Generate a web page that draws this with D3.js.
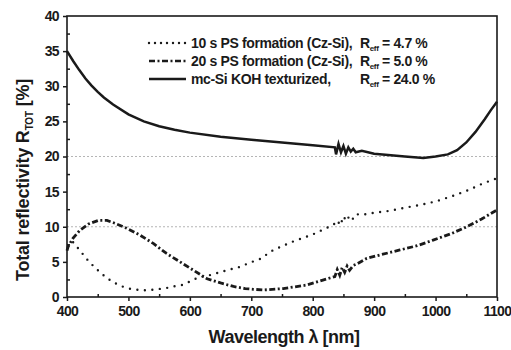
<!DOCTYPE html>
<html>
<head>
<meta charset="utf-8">
<script src="https://d3js.org/d3.v7.min.js"></script>
<style>
body { margin:0; background:#fff; }
text { font-family: "Liberation Sans", Arial, sans-serif; fill:#1a1a1a; }
</style>
</head>
<body>
<div id="chart"></div>
<script>
var width = 511, height = 350;
var plotL = 67, plotR = 497, plotT = 16, plotB = 297;

// 10 s PS formation (Cz-Si)
var ps10Wl = [410,424,436,449,462,475,490,504,517,531,546,560,573,587,600,614,628,644,660,682,698,714,736,768,800,834,840,845,850,855,860,865,870,880,900,920,950,980,1000,1025,1050,1078,1100];
var ps10R  = [7.8,6.3,5.0,3.9,2.9,2.1,1.5,1.14,1.0,0.95,1.1,1.24,1.5,1.7,2.2,2.8,3.0,3.4,3.8,4.3,4.9,5.4,6.7,7.9,8.9,10.3,10.9,10.2,11.5,10.8,11.6,11.1,11.8,11.7,12.0,12.2,12.7,13.2,13.6,14.3,15.1,16.2,16.9];

// 20 s PS formation (Cz-Si)
var ps20Wl = [400,402,410,421,435,451,465,478,497,519,541,562,584,606,628,650,671,690,703,720,752,790,828,836,840,844,848,852,856,860,866,872,888,910,942,970,996,1025,1051,1075,1100];
var ps20R  = [6.6,7.2,8.4,9.5,10.4,10.9,10.9,10.5,9.8,8.8,7.6,6.2,5.0,3.8,2.6,2.0,1.5,1.2,1.1,1.0,1.2,1.7,2.7,2.9,3.9,3.1,4.2,3.5,4.4,3.8,4.5,4.7,5.5,6.0,6.7,7.3,8.1,9.0,10.0,11.1,12.4];

// mc-Si KOH texturized
var kohWl = [400,410,420,430,440,450,460,475,500,525,550,575,600,650,700,750,800,836,838,842,846,850,854,858,862,866,870,880,900,950,980,1000,1020,1035,1050,1065,1080,1090,1100];
var kohR  = [35.0,33.6,32.3,31.1,30.1,29.2,28.4,27.4,26.0,25.0,24.3,23.8,23.4,22.8,22.4,22.0,21.6,21.3,20.3,21.8,20.6,21.5,20.4,21.3,20.7,21.1,20.6,20.8,20.4,20.0,19.8,20.0,20.3,20.9,22.0,23.5,25.3,26.6,27.8];

var xTicks = [400,500,600,700,800,900,1000,1100];
var yTicks = [0,5,10,15,20,25,30,35,40];
var gridLines = [10,20];

var legendLabels = ["10 s PS formation (Cz-Si),", "20 s PS formation (Cz-Si),", "mc-Si KOH texturized,"];
var legendReff = ["4.7 %", "5.0 %", "24.0 %"];

var x = d3.scaleLinear().domain([400,1100]).range([plotL,plotR]);
var y = d3.scaleLinear().domain([0,40]).range([plotB,plotT]);

var svg = d3.select("#chart").append("svg")
    .attr("width",width).attr("height",height);

// faint dotted grid (scan)
svg.selectAll(".grid").data(gridLines).enter().append("line")
    .attr("x1",plotL).attr("x2",plotR)
    .attr("y1",function(d){return y(d);}).attr("y2",function(d){return y(d);})
    .attr("stroke","#b5b5b5").attr("stroke-width",1.2)
    .attr("stroke-dasharray","2,2");

// frame
svg.append("rect").attr("x",plotL).attr("y",plotT)
    .attr("width",plotR-plotL).attr("height",plotB-plotT)
    .attr("fill","none").attr("stroke","#1a1a1a").attr("stroke-width",1.6);

// axes
var xAxis = svg.append("g").attr("transform","translate(0,"+plotB+")")
    .call(d3.axisBottom(x).tickValues(xTicks).tickSize(4).tickPadding(5).tickFormat(d3.format("d")));
var xMinor = svg.append("g").attr("transform","translate(0,"+plotB+")")
    .call(d3.axisTop(x).tickValues(d3.range(450,1100,100)).tickSize(3).tickFormat(""));
var yAxis = svg.append("g").attr("transform","translate("+plotL+",0)")
    .call(d3.axisLeft(y).tickValues(yTicks).tickSize(4).tickPadding(4));
var yMinor = svg.append("g").attr("transform","translate("+plotL+",0)")
    .call(d3.axisRight(y).tickValues(d3.range(2.5,40,5)).tickSize(3).tickFormat(""));

[xAxis,xMinor,yAxis,yMinor].forEach(function(g){
    g.select(".domain").remove();
    g.selectAll("line").attr("stroke","#1a1a1a").attr("stroke-width",1.5);
    g.selectAll("text").style("font-size","14px").style("font-weight","bold")
        .style("letter-spacing","-0.6px").attr("fill","#1a1a1a");
});

// series
var line = d3.line().x(function(d){return x(d[0]);}).y(function(d){return y(d[1]);});

svg.append("path").datum(d3.zip(kohWl,kohR)).attr("d",line)
    .attr("fill","none").attr("stroke","#1a1a1a").attr("stroke-width",2.5);
svg.append("path").datum(d3.zip(ps20Wl,ps20R)).attr("d",line)
    .attr("fill","none").attr("stroke","#1a1a1a").attr("stroke-width",2.8)
    .attr("stroke-dasharray","6,2.5,2,2.5");
svg.append("path").datum(d3.zip(ps10Wl,ps10R)).attr("d",line)
    .attr("fill","none").attr("stroke","#1a1a1a").attr("stroke-width",2.4)
    .attr("stroke-linecap","round").attr("stroke-dasharray","0,7.5");

// legend
var legY = [43,61,79];
var legDash = ["0,6","6,2.5,2,2.5",null];
legendLabels.forEach(function(lbl,i){
    var l = svg.append("line").attr("x1",149).attr("x2",186)
        .attr("y1",legY[i]).attr("y2",legY[i])
        .attr("stroke","#1a1a1a").attr("stroke-width",2.4);
    if (i==0) l.attr("stroke-linecap","round");
    if (legDash[i]) l.attr("stroke-dasharray",legDash[i]);
    svg.append("text").attr("x",191).attr("y",legY[i]+5)
        .style("font-size","14px").style("font-weight","bold").style("letter-spacing","-0.35px").text(lbl);
    var t = svg.append("text").attr("x",360).attr("y",legY[i]+5)
        .style("font-size","14px").style("font-weight","bold").style("letter-spacing","-0.35px");
    t.append("tspan").text("R");
    t.append("tspan").attr("dy",3).style("font-size","8px").text("eff");
    t.append("tspan").attr("dy",-3).text(" = "+legendReff[i]);
});

// axis titles
svg.append("text").attr("x",284).attr("y",343).attr("text-anchor","middle")
    .style("font-size","18px").style("font-weight","bold").style("letter-spacing","-0.5px")
    .text("Wavelength \u03bb [nm]");

var yl = svg.append("text").attr("transform","translate(29,180) rotate(-90)")
    .attr("text-anchor","middle").style("font-size","18px").style("font-weight","bold").style("letter-spacing","-0.2px");
yl.append("tspan").text("Total reflectivity R");
yl.append("tspan").attr("dy",4).style("font-size","10px").text("TOT");
yl.append("tspan").attr("dy",-4).text(" [%]");
</script>
</body>
</html>
